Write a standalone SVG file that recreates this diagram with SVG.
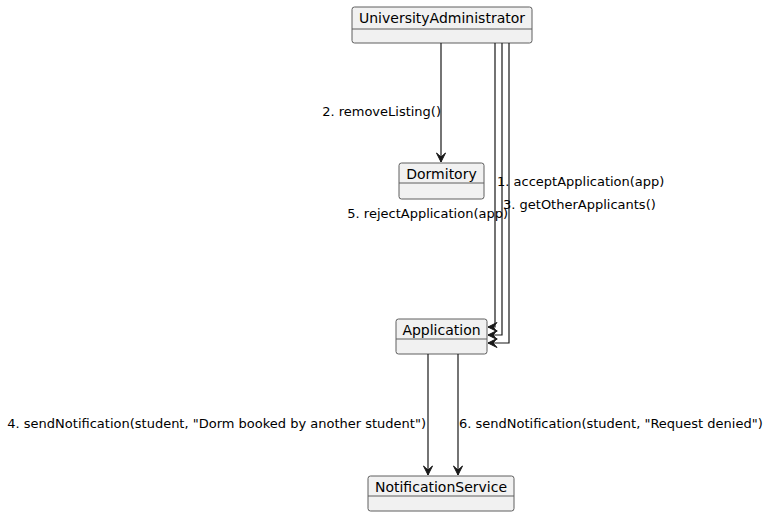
<svg xmlns="http://www.w3.org/2000/svg" width="770" height="516" viewBox="0 0 770 516">
<style>
.box{fill:#F1F1F1;stroke:#5f5f5f;stroke-width:1}
.div{stroke:#5f5f5f;stroke-width:1}
.name{font-family:"DejaVu Sans",sans-serif;font-size:14px;fill:#000;text-anchor:middle}
.lbl{font-family:"DejaVu Sans",sans-serif;font-size:13px;fill:#000}
.edge{fill:none;stroke:#181818;stroke-width:1.2}
</style>
<defs>
<marker id="arr" markerUnits="userSpaceOnUse" markerWidth="12" markerHeight="12" viewBox="-10 -6 12 12" refX="0" refY="0" orient="auto">
<path d="M0,0 L-9,-4.5 L-5,0 L-9,4.5 Z" fill="#181818" stroke="#181818" stroke-width="1"/>
</marker>
</defs>
<rect width="770" height="516" fill="#fff"/>
<g id="UniversityAdministrator">
<rect class="box" x="352" y="7" width="180" height="36" rx="2.5"/>
<line class="div" x1="352" y1="29" x2="532" y2="29"/>
<text class="name" x="442" y="23">UniversityAdministrator</text>
</g>
<g id="Dormitory">
<rect class="box" x="399" y="163" width="85" height="36" rx="2.5"/>
<line class="div" x1="399" y1="183" x2="484" y2="183"/>
<text class="name" x="441.5" y="179">Dormitory</text>
</g>
<g id="Application">
<rect class="box" x="396" y="319" width="91" height="35" rx="2.5"/>
<line class="div" x1="396" y1="339" x2="487" y2="339"/>
<text class="name" x="441.5" y="335">Application</text>
</g>
<g id="NotificationService">
<rect class="box" x="368" y="476" width="146" height="35" rx="2.5"/>
<line class="div" x1="368" y1="496" x2="514" y2="496"/>
<text class="name" x="441" y="492">NotificationService</text>
</g>
<g id="connectors">
<path class="edge" d="M441,43 L441,162" marker-end="url(#arr)"/>
<path class="edge" d="M495,43 L495,327 L488,327" marker-end="url(#arr)"/>
<path class="edge" d="M502,43 L502,335 L488,335" marker-end="url(#arr)"/>
<path class="edge" d="M509,43 L509,343 L488,343" marker-end="url(#arr)"/>
<path class="edge" d="M428,354 L428,475" marker-end="url(#arr)"/>
<path class="edge" d="M458,354 L458,475" marker-end="url(#arr)"/>
<text class="lbl" x="441" y="116" text-anchor="end">2. removeListing()</text>
<text class="lbl" x="497" y="186">1. acceptApplication(app)</text>
<text class="lbl" x="503" y="209">3. getOtherApplicants()</text>
<text class="lbl" x="508" y="218" text-anchor="end">5. rejectApplication(app)</text>
<text class="lbl" x="426" y="428" text-anchor="end">4. sendNotification(student, "Dorm booked by another student")</text>
<text class="lbl" x="459" y="428">6. sendNotification(student, "Request denied")</text>
</g>
</svg>
